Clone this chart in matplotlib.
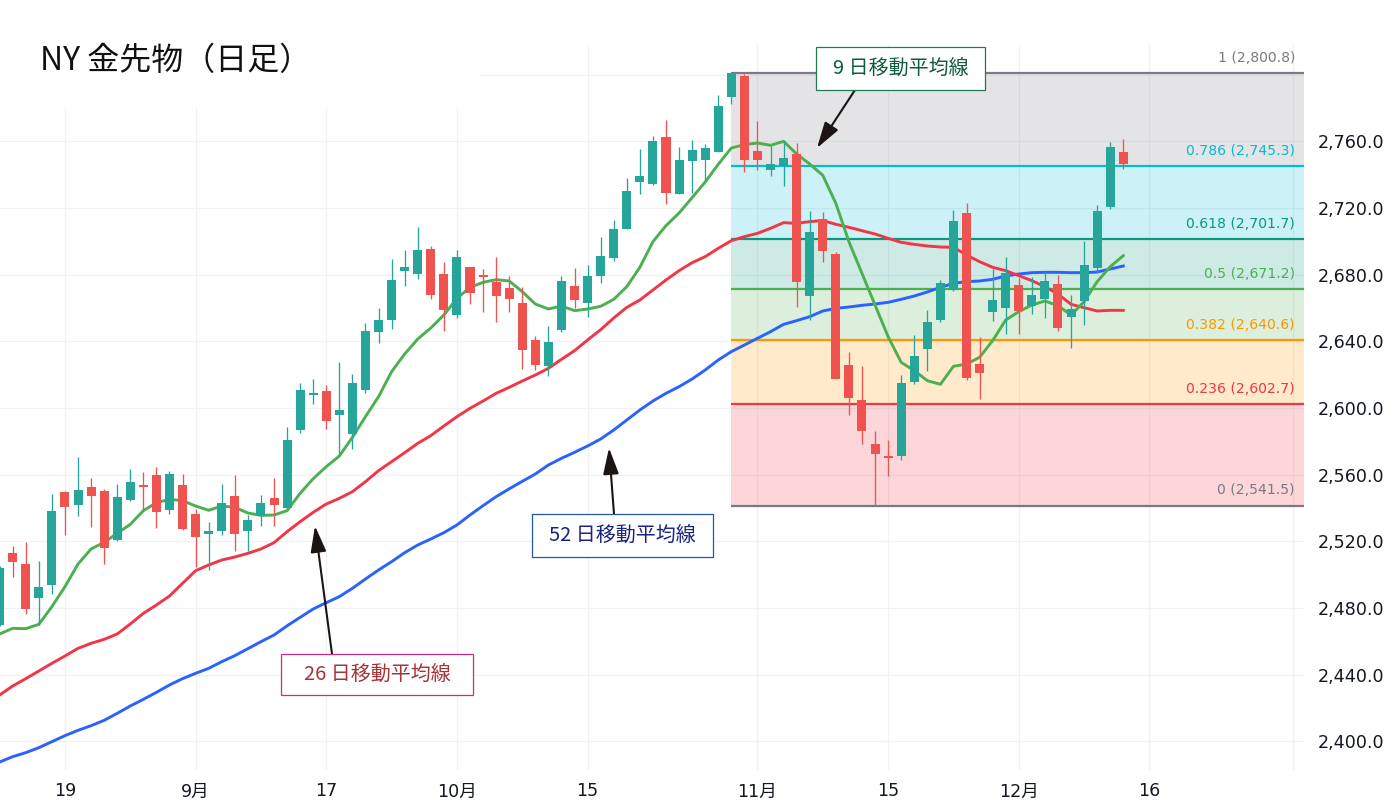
import matplotlib
matplotlib.use("Agg")
import matplotlib.pyplot as plt
from matplotlib.patches import Rectangle
import numpy as np

plt.rcParams['font.family'] = ['DejaVu Sans', 'Noto Sans CJK JP']

W, H = 1393, 809

bars = np.arange(-1, 86)
opens = [2469.8, 2513.0, 2506.4, 2486.0, 2493.8, 2549.6, 2541.8, 2552.6, 2550.2, 2520.8, 2544.8, 2553.8, 2559.8, 2538.8, 2553.8, 2536.4, 2524.4, 2526.2, 2547.2, 2526.2, 2535.2, 2546.0,
         2540.0, 2586.8, 2607.8, 2610.2, 2595.8, 2584.4, 2610.8, 2645.6, 2652.8, 2682.2, 2680.4, 2695.4, 2680.4, 2655.8, 2684.6, 2679.8, 2675.6, 2672.0, 2663.0, 2640.8, 2625.2, 2646.8,
         2673.2, 2663.0, 2679.2, 2690.0, 2707.4, 2735.6, 2734.4, 2762.6, 2728.4, 2748.2, 2748.8, 2753.6, 2786.6, 2799.2, 2754.2, 2742.8, 2745.2, 2752.4, 2667.2, 2713.4, 2692.4, 2625.8,
         2604.8, 2578.4, 2570.6, 2571.2, 2615.6, 2635.4, 2652.8, 2670.8, 2717.0, 2626.4, 2657.6, 2660.0, 2673.8, 2661.2, 2665.4, 2674.4, 2654.6, 2664.2, 2684.0, 2720.6, 2753.6]
closes = [2503.8, 2507.6, 2479.4, 2492.6, 2538.2, 2540.6, 2550.8, 2547.2, 2516.0, 2546.6, 2555.6, 2552.6, 2537.6, 2560.4, 2527.4, 2522.6, 2526.2, 2543.0, 2524.4, 2532.8, 2543.0, 2541.8,
          2580.8, 2610.8, 2609.0, 2592.2, 2598.8, 2615.0, 2646.2, 2652.8, 2676.8, 2684.6, 2694.8, 2667.8, 2658.8, 2690.6, 2669.0, 2678.6, 2667.2, 2665.4, 2634.8, 2625.8, 2639.6, 2676.2,
          2664.8, 2679.2, 2691.2, 2707.4, 2730.2, 2739.2, 2760.0, 2729.0, 2748.8, 2754.8, 2756.0, 2781.2, 2801.0, 2748.8, 2748.8, 2746.4, 2750.0, 2675.6, 2705.6, 2694.2, 2617.4, 2606.0,
          2586.2, 2572.4, 2570.0, 2615.0, 2631.2, 2651.6, 2675.0, 2712.2, 2618.0, 2621.0, 2664.8, 2681.0, 2658.2, 2667.8, 2676.2, 2648.0, 2659.4, 2685.8, 2718.2, 2756.6, 2746.4]
highs = [2505.0, 2517.0, 2519.6, 2508.2, 2548.4, 2550.2, 2570.6, 2558.0, 2551.4, 2554.4, 2563.4, 2561.6, 2564.6, 2562.2, 2560.4, 2539.4, 2531.6, 2554.4, 2559.8, 2535.8, 2547.8, 2558.0,
         2588.6, 2615.0, 2617.4, 2613.8, 2627.6, 2620.4, 2651.0, 2660.0, 2689.4, 2694.8, 2708.6, 2697.2, 2687.6, 2694.8, 2684.6, 2683.4, 2690.6, 2679.2, 2672.6, 2643.2, 2649.2, 2679.2,
         2684.0, 2685.8, 2702.6, 2712.8, 2738.0, 2755.4, 2763.2, 2772.8, 2756.6, 2760.8, 2758.4, 2787.8, 2801.0, 2800.4, 2772.2, 2757.2, 2760.0, 2759.0, 2718.2, 2717.6, 2693.6, 2633.6,
         2625.2, 2586.2, 2580.8, 2619.8, 2643.8, 2658.8, 2676.8, 2718.8, 2723.0, 2642.6, 2683.4, 2690.6, 2678.0, 2678.6, 2682.2, 2679.8, 2667.8, 2700.2, 2721.8, 2759.6, 2761.4]
lows = [2469.0, 2498.6, 2476.4, 2469.8, 2488.4, 2523.8, 2535.2, 2528.6, 2506.4, 2520.2, 2544.2, 2538.8, 2528.0, 2536.4, 2526.8, 2504.6, 2502.8, 2523.8, 2514.2, 2514.2, 2529.2, 2529.2,
        2540.0, 2585.0, 2602.4, 2587.4, 2571.8, 2575.4, 2609.0, 2639.0, 2647.4, 2673.2, 2677.4, 2665.4, 2646.2, 2654.0, 2662.4, 2657.6, 2651.6, 2657.6, 2623.4, 2622.8, 2619.2, 2645.6,
        2660.0, 2654.6, 2675.0, 2688.2, 2707.4, 2728.4, 2733.8, 2722.4, 2728.4, 2729.0, 2736.8, 2753.6, 2782.4, 2741.6, 2742.8, 2739.2, 2733.2, 2660.6, 2652.8, 2687.6, 2617.4, 2595.8,
        2578.4, 2541.8, 2559.2, 2568.8, 2614.4, 2622.2, 2651.6, 2670.2, 2616.8, 2605.4, 2652.2, 2644.4, 2644.4, 2656.4, 2654.0, 2646.2, 2636.0, 2649.8, 2681.0, 2719.4, 2743.4]

ma9 = [2464.4, 2467.8, 2467.6, 2470.2, 2480.8, 2492.8, 2506.4, 2515.4, 2519.4, 2524.8, 2530.2, 2538.4, 2543.2, 2545.2, 2544.4, 2541.2, 2538.6, 2541.2, 2540.4, 2537.0, 2535.6, 2535.8,
       2538.4, 2548.8, 2557.6, 2564.8, 2571.2, 2582.4, 2594.8, 2606.8, 2621.8, 2632.4, 2641.4, 2648.0, 2655.8, 2665.8, 2672.4, 2675.4, 2677.0, 2676.2, 2669.8, 2662.4, 2659.4, 2661.2,
       2658.4, 2659.4, 2661.0, 2665.2, 2672.8, 2684.4, 2699.8, 2709.4, 2717.0, 2726.2, 2735.6, 2746.2, 2756.0, 2758.0, 2759.0, 2757.6, 2760.0, 2752.4, 2746.4, 2739.6, 2722.8, 2699.8,
       2680.8, 2661.8, 2642.8, 2627.4, 2622.4, 2616.4, 2614.2, 2625.0, 2626.4, 2630.4, 2640.4, 2652.8, 2657.8, 2661.8, 2664.2, 2661.4, 2655.8, 2663.8, 2675.8, 2684.8, 2691.4]
ma26 = [2427.8, 2433.2, 2437.6, 2442.2, 2446.8, 2451.2, 2455.8, 2458.8, 2461.2, 2464.4, 2470.4, 2476.8, 2481.8, 2487.2, 2494.8, 2502.4, 2505.8, 2508.8, 2510.6, 2512.8, 2515.4, 2519.2,
        2525.8, 2531.8, 2537.4, 2542.4, 2545.8, 2549.8, 2555.8, 2562.4, 2567.8, 2573.2, 2578.8, 2583.4, 2589.2, 2594.8, 2599.8, 2604.2, 2608.8, 2612.4, 2616.2, 2619.8, 2623.8, 2629.2,
        2634.4, 2640.8, 2647.0, 2654.0, 2660.4, 2664.8, 2670.8, 2676.8, 2682.4, 2687.2, 2690.8, 2695.8, 2700.4, 2702.8, 2704.8, 2707.8, 2711.2, 2710.8, 2711.8, 2712.5, 2710.2, 2708.4,
        2706.4, 2704.4, 2701.8, 2699.4, 2698.2, 2697.2, 2696.6, 2696.4, 2691.8, 2687.8, 2684.4, 2682.4, 2679.4, 2676.4, 2672.8, 2668.4, 2662.2, 2660.2, 2658.2, 2658.6, 2658.6]
ma52 = [2387.6, 2390.8, 2393.2, 2396.2, 2399.8, 2403.4, 2406.6, 2409.4, 2412.6, 2416.8, 2421.2, 2425.2, 2429.4, 2433.8, 2437.6, 2440.8, 2443.8, 2447.8, 2451.4, 2455.6, 2459.8, 2463.8,
        2469.3, 2474.4, 2479.4, 2483.2, 2486.8, 2491.8, 2497.4, 2502.8, 2507.8, 2513.2, 2517.8, 2521.4, 2525.2, 2529.8, 2535.8, 2541.4, 2546.8, 2551.5, 2556.0, 2560.4, 2565.8, 2569.8,
        2573.4, 2577.2, 2581.4, 2586.8, 2592.8, 2598.8, 2604.2, 2608.8, 2612.8, 2617.4, 2622.8, 2628.8, 2633.8, 2637.8, 2641.8, 2645.8, 2650.2, 2652.4, 2654.8, 2658.2, 2659.8, 2660.6,
        2661.6, 2662.4, 2663.4, 2665.2, 2667.2, 2669.6, 2672.4, 2674.8, 2675.8, 2676.2, 2677.2, 2679.2, 2680.4, 2681.2, 2681.4, 2681.4, 2681.2, 2681.2, 2681.6, 2683.4, 2685.2]

fib_ratios = ["1", "0.786", "0.618", "0.5", "0.382", "0.236", "0"]
fib_prices = [2800.8, 2745.3, 2701.7, 2671.2, 2640.6, 2602.7, 2541.5]
fib_colors = ["#787b86", "#00bcd4", "#089981", "#4caf50", "#ff9800", "#f23645", "#787b86"]

y_ticks = [2400, 2440, 2480, 2520, 2560, 2600, 2640, 2680, 2720, 2760, 2800]
x_ticks = [4, 14, 24, 34, 44, 57, 67, 77, 87, 98]
x_labels = ["19", "9月", "17", "10月", "15", "11月", "15", "12月", "16", ""]


# pixel position in the reference -> figure fraction
def px(x, y):
    return x / W, 1 - y / H


fig = plt.figure(figsize=(W / 100, H / 100), dpi=100)
ax = fig.add_axes([0, (H - 770) / H, 1304 / W, 725 / H])
ax.set_xlim(-0.972, 98.83)
ax.set_ylim(2382.8, 2817.8)
for s in ax.spines.values():
    s.set_visible(False)

ax.yaxis.tick_right()
ax.set_yticks(y_ticks)
ax.set_yticklabels([f"{v:,.1f}" if v < 2800 else "" for v in y_ticks])
ax.set_xticks(x_ticks)
ax.set_xticklabels(x_labels)
ax.tick_params(axis="y", length=0, pad=10, labelsize=12.6, labelcolor="#131722")
ax.tick_params(axis="x", length=0, pad=9, labelsize=12.6, labelcolor="#131722")
for lab in ax.get_yticklabels():
    lab.set_y(lab.get_position()[1])
ax.set_axisbelow(True)
ax.grid(True, color="#f0f1f4", lw=0.9)

# the title sits on a white block that hides the grid
ax.add_patch(Rectangle((0, 1 - 108 / H), 480 / W, 108 / H, transform=fig.transFigure,
                       facecolor="white", edgecolor="none", zorder=0.6, clip_on=False))

# fibonacci bands
fib_start = 55
fib_end = 98.83
for i in range(len(fib_prices) - 1):
    ax.fill_between([fib_start, fib_end], fib_prices[i + 1], fib_prices[i],
                    color=fib_colors[i], alpha=0.2, lw=0, zorder=1)
for i in range(len(fib_prices)):
    ax.plot([fib_start, fib_end], [fib_prices[i], fib_prices[i]], color=fib_colors[i], lw=1.6,
            solid_capstyle="butt", zorder=2)
    ax.annotate(f"{fib_ratios[i]} ({fib_prices[i]:,.1f})", xy=(98.14, fib_prices[i]),
                xytext=(0, 10.8), textcoords="offset points", ha="right", va="center",
                fontsize=10.1, color=fib_colors[i], zorder=6)

# moving averages
ax.plot(bars, ma52, color="#2962ff", lw=2.1, zorder=3)
ax.plot(bars, ma26, color="#f23645", lw=2.1, zorder=3)
ax.plot(bars, ma9, color="#4caf50", lw=2.1, zorder=3)

# candles
opens = np.array(opens)
closes = np.array(closes)
cols = np.where(closes >= opens, "#26a69a", "#ef5350")
ax.vlines(bars, lows, highs, colors=cols, lw=0.95, zorder=4)
ax.bar(bars, np.maximum(np.abs(closes - opens), 0.9), bottom=np.minimum(opens, closes),
       width=0.69, color=cols, lw=0, zorder=5)

# title
x, y = px(40, 61)
fig.text(x, y, "NY 金先物（日足）", fontsize=23, color="#111111", va="center", ha="left",
         family=["Noto Sans CJK JP", "DejaVu Sans"])


def note(text, box, edge, color, arrow_from, arrow_to):
    l, t, r, b = box
    fig.add_artist(Rectangle(px(l, b), (r - l) / W, (b - t) / H, transform=fig.transFigure,
                             facecolor="white", edgecolor=edge, lw=0.9, zorder=10))
    x, y = px((l + r) / 2, (t + b) / 2)
    fig.text(x, y, text, fontsize=14.4, color=color, ha="center", va="center", zorder=11,
             family=["Noto Sans CJK JP", "DejaVu Sans"])
    ax.annotate("", xy=px(*arrow_to), xytext=px(*arrow_from), xycoords="figure fraction",
                textcoords="figure fraction", zorder=9, annotation_clip=False,
                arrowprops=dict(arrowstyle="-|>,head_length=0.8,head_width=0.24", mutation_scale=20,
                                color="#1c1412", lw=1.5, shrinkA=0, shrinkB=0))


note("9 日移動平均線", (816, 47, 985, 90), "#1f7a50", "#0e5c3a", (855, 90), (817, 148))
note("26 日移動平均線", (281, 654, 473, 695), "#cf2a80", "#a83236", (332, 654), (315, 526))
note("52 日移動平均線", (532, 514, 713, 557), "#2456ab", "#1a237e", (614, 514), (609, 448))

fig.savefig("out.png", dpi=100)
